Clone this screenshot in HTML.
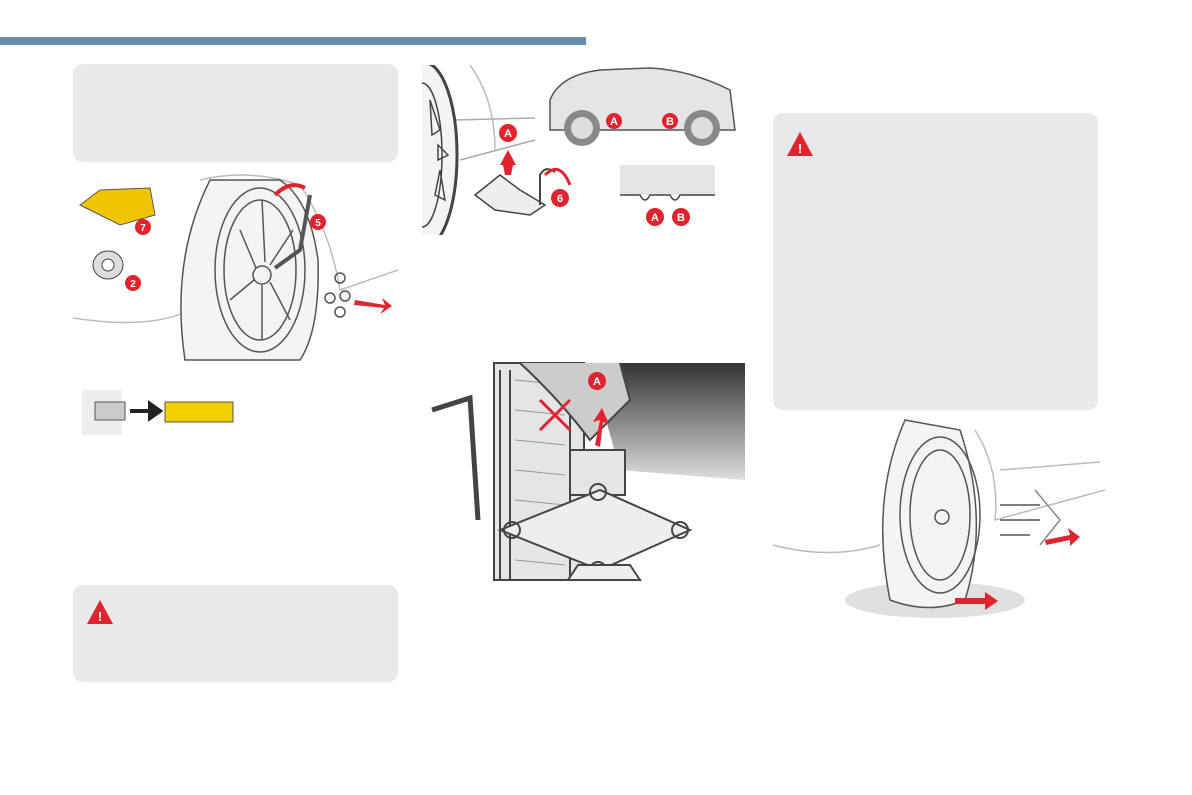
<!DOCTYPE html>
<html><head><meta charset="utf-8"><style>
body{margin:0;width:1192px;height:795px;background:#fff;position:relative;overflow:hidden;font-family:"Liberation Sans",sans-serif}
.bar{position:absolute;left:0;top:37px;width:586px;height:8px;background:#6b8dab}
.box{position:absolute;background:#e9e9e9;border-radius:10px}
svg{position:absolute;left:0;top:0}
</style></head><body>
<div class="bar"></div>
<div class="box" style="left:73px;top:64px;width:325px;height:98px"></div>
<div class="box" style="left:73px;top:585px;width:325px;height:97px"></div>
<div class="box" style="left:773px;top:113px;width:325px;height:297px"></div>
<svg width="1192" height="795" viewBox="0 0 1192 795">
<defs><linearGradient id="g" x1="0" y1="0" x2="0" y2="1"><stop offset="0" stop-color="#333"/><stop offset="1" stop-color="#ddd"/></linearGradient>
<clipPath id="c1"><rect x="422" y="65" width="330" height="170"/></clipPath></defs>
<polygon points="100,600 87,624 113,624" fill="#e0242f"/><text x="100" y="621" font-size="13" font-weight="bold" fill="#fff" text-anchor="middle">!</text>
<polygon points="800,132 787,156 813,156" fill="#e0242f"/><text x="800" y="153" font-size="13" font-weight="bold" fill="#fff" text-anchor="middle">!</text>
<!-- wheel 1 -->
<g fill="none" stroke="#555" stroke-width="1.5">
<path d="M73,318 Q150,330 190,310 M200,180 Q250,168 300,185 Q330,230 340,290 L398,270" stroke="#bbb"/>
<path d="M210,180 Q170,260 185,360 L300,360 Q320,330 318,260 Q310,200 280,180 Z" fill="#f4f4f4"/>
<ellipse cx="260" cy="270" rx="45" ry="82"/><ellipse cx="260" cy="270" rx="36" ry="70"/>
<circle cx="262" cy="275" r="9"/>
<path d="M262,200 L265,262 M240,230 L256,268 M230,300 L254,280 M262,340 L262,285 M290,320 L270,282 M293,230 L270,265"/>
<path d="M310,195 L300,250 L275,268" stroke-width="4"/>
<circle cx="340" cy="278" r="5"/><circle cx="345" cy="296" r="5"/><circle cx="330" cy="298" r="5"/><circle cx="340" cy="312" r="5"/>
</g>
<path d="M355,300 L385,305 L382,298 L392,306 L380,314 L384,308 L354,305 Z" fill="#e0242f"/>
<path d="M275,195 Q290,180 305,188" stroke="#e0242f" stroke-width="4" fill="none"/>
<circle cx="318" cy="222" r="8" fill="#e0242f"/><text x="318" y="226" font-size="10" font-weight="bold" fill="#fff" text-anchor="middle">5</text>
<path d="M80,205 L100,190 L150,188 L155,215 L120,225 Z" fill="#f0c400" stroke="#555"/>
<circle cx="143" cy="227" r="8" fill="#e0242f"/><text x="143" y="231" font-size="10" font-weight="bold" fill="#fff" text-anchor="middle">7</text>
<ellipse cx="108" cy="265" rx="15" ry="14" fill="#ddd" stroke="#444"/><circle cx="108" cy="265" r="6" fill="#fff" stroke="#444"/>
<circle cx="133" cy="283" r="8" fill="#e0242f"/><text x="133" y="287" font-size="10" font-weight="bold" fill="#fff" text-anchor="middle">2</text>
<rect x="82" y="390" width="40" height="45" fill="#eee"/><rect x="95" y="402" width="30" height="18" fill="#ccc" stroke="#555"/>
<path d="M130,411 L150,411 L150,404 L160,411 L150,418 L150,411" stroke="#222" stroke-width="4" fill="#222"/>
<rect x="165" y="402" width="68" height="20" fill="#f0d000" stroke="#555"/>
<!-- top middle -->
<g fill="none" stroke="#444" stroke-width="1.5" clip-path="url(#c1)">
<path d="M455,120 L535,118 M460,160 L535,140" stroke="#aaa"/>
<path d="M470,65 Q495,100 495,150" stroke="#bbb"/>
<ellipse cx="425" cy="155" rx="32" ry="92" fill="#f4f4f4" stroke-width="3"/>
<ellipse cx="422" cy="155" rx="20" ry="72"/>
<path d="M430,100 L440,130 L432,135 Z M440,170 L445,200 L435,195 Z M438,145 L448,155 L438,160 Z"/>
<path d="M475,195 L500,175 L520,190 L545,205 L530,215 L495,210 Z" fill="#eee"/>
<path d="M540,205 L540,175 Q545,165 555,172" stroke-width="2"/>
<path d="M550,100 Q560,75 600,70 L650,68 Q690,70 730,90 L735,130 L550,130 Z" fill="#e5e5e5" stroke="#555"/>
<rect x="620" y="165" width="95" height="30" fill="#e5e5e5" stroke="none"/>
<path d="M620,195 L640,195 Q645,205 650,195 L670,195 Q675,205 680,195 L715,195"/>
</g>
<circle cx="582" cy="128" r="18" fill="#888"/><circle cx="582" cy="128" r="11" fill="#ddd"/>
<circle cx="702" cy="128" r="18" fill="#888"/><circle cx="702" cy="128" r="11" fill="#ddd"/>
<g font-size="11" font-weight="bold" fill="#fff" text-anchor="middle">
<circle cx="614" cy="121" r="8" fill="#e0242f"/><text x="614" y="125">A</text>
<circle cx="670" cy="121" r="8" fill="#e0242f"/><text x="670" y="125">B</text>
<circle cx="508" cy="133" r="9" fill="#e0242f"/><text x="508" y="137">A</text>
<circle cx="560" cy="198" r="9" fill="#e0242f"/><text x="560" y="202">6</text>
<circle cx="655" cy="217" r="9" fill="#e0242f"/><text x="655" y="221">A</text>
<circle cx="681" cy="217" r="9" fill="#e0242f"/><text x="681" y="221">B</text>
</g>
<path d="M500,165 L508,150 L516,165 Z M503,165 L513,165 L511,175 L505,175 Z" fill="#e0242f"/>
<path d="M545,175 Q560,160 570,185" stroke="#e0242f" stroke-width="3" fill="none"/>
<!-- jack -->
<path d="M590,363 L745,363 L745,480 L620,470 Z" fill="url(#g)"/>
<g fill="none" stroke="#444" stroke-width="2">
<rect x="494" y="363" width="90" height="217" fill="#e5e5e5"/>
<path d="M500,370 L500,580 M510,370 L510,580 M570,370 L570,580"/>
<path d="M515,380 L565,385 M515,410 L565,415 M515,440 L565,445 M515,470 L565,475 M515,500 L565,505 M515,560 L565,565" stroke="#999" stroke-width="1"/>
<path d="M520,363 Q560,400 590,440 L630,400 L620,363" fill="#ccc"/>
<path d="M432,410 L470,398 L478,520" stroke-width="5"/>
<path d="M570,450 L625,450 L625,495 L570,495 Z" fill="#e5e5e5"/>
<path d="M500,530 L600,490 L690,530 L600,570 Z" fill="#eee"/>
<circle cx="512" cy="530" r="8"/><circle cx="598" cy="492" r="8"/><circle cx="680" cy="530" r="8"/><circle cx="598" cy="570" r="8"/>
<path d="M578,565 L630,565 L640,580 L568,580 Z" fill="#eee"/>
</g>
<path d="M540,400 L570,430 M570,400 L540,430" stroke="#e0242f" stroke-width="3"/>
<path d="M595,445 L600,420 L593,422 L602,408 L609,424 L603,422 L600,447 Z" fill="#e0242f"/>
<circle cx="597" cy="381" r="9" fill="#e0242f"/><text x="597" y="385" font-size="11" font-weight="bold" fill="#fff" text-anchor="middle">A</text>
<!-- wheel 3 -->
<ellipse cx="935" cy="600" rx="90" ry="18" fill="#ccc" opacity="0.6"/>
<g fill="none" stroke="#555" stroke-width="1.5">
<path d="M773,545 Q830,560 880,545 M975,430 Q1000,470 995,520 L1105,490 M1000,470 L1100,462" stroke="#bbb"/>
<path d="M905,420 Q870,500 890,600 Q930,615 965,600 Q990,520 960,430 Z" fill="#f4f4f4"/>
<ellipse cx="940" cy="515" rx="40" ry="78"/><ellipse cx="940" cy="515" rx="30" ry="65"/>
<circle cx="942" cy="517" r="7"/>
<path d="M1000,505 L1040,505 M1000,520 L1040,520 M1000,535 L1030,535"/>
<path d="M1035,490 L1060,520 L1040,545" stroke="#888"/>
</g>
<path d="M1045,540 L1070,535 L1068,528 L1080,537 L1070,546 L1070,540 L1046,545 Z" fill="#e0242f"/>
<path d="M955,598 L985,598 L985,592 L998,601 L985,610 L985,604 L955,604 Z" fill="#e0242f"/>
</svg>
</body></html>
